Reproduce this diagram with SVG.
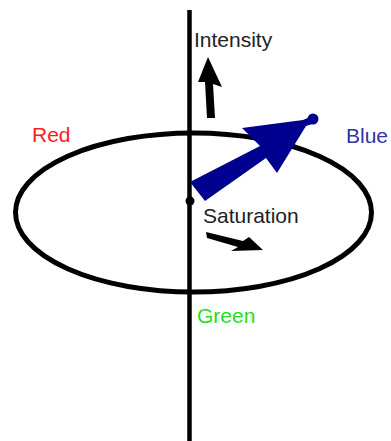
<svg xmlns="http://www.w3.org/2000/svg" width="391" height="441" viewBox="0 0 391 441">
<style>
text{font-family:"Liberation Sans",Arial,sans-serif;font-size:21px}
.blk{fill:#000}
</style>
<rect width="391" height="441" fill="#fff"/>
<g id="connectors">
<ellipse cx="193.5" cy="212.5" rx="178" ry="79.5" fill="none" stroke="#000" stroke-width="5"/>
<line x1="189.5" y1="10" x2="189.5" y2="441" stroke="#000" stroke-width="4.5"/>
</g>
<g id="center"><circle cx="190" cy="201" r="4.5" class="blk"/></g>
<g id="blue-vector">
<polygon points="190,182 260,146 242,128 303,120 310,117 315,123 306,126 277,173 266,158 205,201" fill="#00008f"/>
<circle cx="313" cy="119" r="5.5" fill="#00008f"/>
</g>
<g id="intensity">
<polygon points="208,57 198,82 205,82 207,118 215,118 213,84 222,87" class="blk"/>
<text x="194" y="47" fill="#222">Intensity</text>
</g>
<g id="saturation">
<polygon points="206,232 243,241 249,237 263,250 231,251 238,247 207,238" class="blk"/>
<text x="203" y="223" fill="#222">Saturation</text>
</g>
<g id="red"><text x="32" y="142" fill="#ff1a1a">Red</text></g>
<g id="blue"><text x="346" y="143" fill="#3333aa">Blue</text></g>
<g id="green"><text x="197" y="323" fill="#22e022">Green</text></g>
</svg>
